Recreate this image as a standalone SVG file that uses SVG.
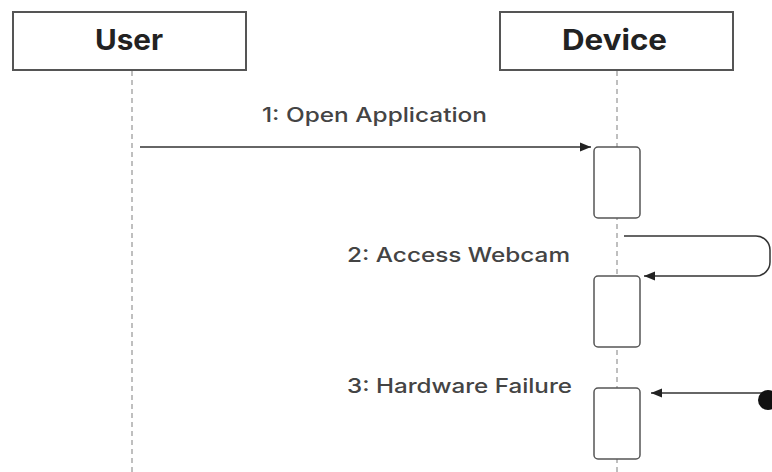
<svg xmlns="http://www.w3.org/2000/svg" width="772" height="472" viewBox="0 0 772 472">
<style>
.box{fill:#fff;stroke:#555;stroke-width:2}
.act{fill:#fff;stroke:#555;stroke-width:1.5}
.life{stroke:#aaa;stroke-width:1.5;stroke-dasharray:5 4;fill:none}
.msg{stroke:#333;stroke-width:1.5;fill:none}
.title{font-family:Inter,"Liberation Sans",sans-serif;font-weight:700;font-size:28px;fill:#222}
.lbl{font-family:Inter,"Liberation Sans",sans-serif;font-weight:500;font-size:20px;fill:#444}
</style>
<defs>
<marker id="ah" markerWidth="12" markerHeight="12" refX="11" refY="6" orient="auto" markerUnits="userSpaceOnUse">
<path d="M0,1.5 L11,6 L0,10.5 Z" fill="#222"/>
</marker>
</defs>
<rect width="772" height="472" fill="#fff"/>
<g id="lifelines">
<line class="life" x1="132" y1="71" x2="132" y2="472"/>
<line class="life" x1="617" y1="71" x2="617" y2="472"/>
</g>
<g id="user"><rect class="box" x="13" y="12" width="233" height="58"/><text class="title" x="95" y="50" textLength="68" lengthAdjust="spacingAndGlyphs">User</text></g>
<g id="device"><rect class="box" x="500" y="12" width="233" height="58"/><text class="title" x="562" y="50" textLength="105" lengthAdjust="spacingAndGlyphs">Device</text></g>
<g id="act1"><rect class="act" x="594" y="147" width="46" height="71" rx="4"/></g>
<g id="act2"><rect class="act" x="594" y="276" width="46" height="71" rx="4"/></g>
<g id="act3"><rect class="act" x="594" y="388" width="46" height="71" rx="4"/></g>
<g id="connectors">
<line class="msg" x1="140" y1="147" x2="591" y2="147" marker-end="url(#ah)"/>
<path class="msg" d="M624,236 H756 A14,14 0 0 1 770,250 V262 A14,14 0 0 1 756,276 H644" marker-end="url(#ah)"/>
<line class="msg" x1="766" y1="393" x2="651" y2="393" marker-end="url(#ah)"/>
<circle cx="768" cy="400" r="10" fill="#111"/>
</g>
<g id="labels">
<text class="lbl" x="262" y="122" textLength="225" lengthAdjust="spacingAndGlyphs">1: Open Application</text>
<text class="lbl" x="347" y="262" textLength="223" lengthAdjust="spacingAndGlyphs">2: Access Webcam</text>
<text class="lbl" x="347" y="393" textLength="225" lengthAdjust="spacingAndGlyphs">3: Hardware Failure</text>
</g>
</svg>
